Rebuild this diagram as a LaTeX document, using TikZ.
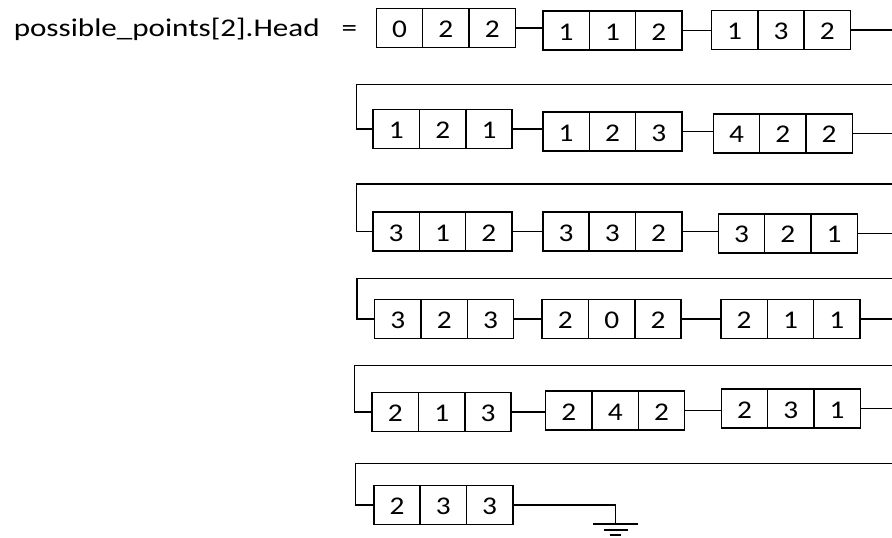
\documentclass[tikz,border=0pt]{standalone}
\usepackage{fontspec}
\setmainfont{Carlito}[FakeStretch=1.15,Numbers=Lining]
\usetikzlibrary{calc}
\newcommand\cells[3]{\makebox[46.33pt]{#1}\makebox[46.33pt]{#2}\makebox[46.33pt]{#3}}
\tikzset{
  txt/.style={font=\fontsize{25.5}{30}\selectfont},
  rec/.style={draw, txt, minimum width=139pt, minimum height=39pt, inner sep=0pt,
    text height=19pt, text depth=0pt,
    path picture={
      \draw ($(path picture bounding box.south west)!1/3!(path picture bounding box.south east)$) --
            ($(path picture bounding box.north west)!1/3!(path picture bounding box.north east)$);
      \draw ($(path picture bounding box.south west)!2/3!(path picture bounding box.south east)$) --
            ($(path picture bounding box.north west)!2/3!(path picture bounding box.north east)$);
    }},
}
\begin{document}
\begin{tikzpicture}[x=1pt,y=-1pt,line width=1.5pt]
\useasboundingbox (0,0) rectangle (892,538);
\clip (0,0) rectangle (892,538);
\node[txt, anchor=base west, inner sep=0pt] (lbl) at (13,36.5) {\addfontfeature{FakeStretch=1.22}possible\_points[2].Head\hspace{22pt}=};
% row 1
\node[rec] (a1) at (445.9,27.8) {\cells{0}{2}{2}};
\node[rec] (a2) at (612.5,30.5) {\cells{1}{1}{2}};
\node[rec] (a3) at (781,30) {\cells{1}{3}{2}};
% row 2
\node[rec] (b1) at (442.7,129.2) {\cells{1}{2}{1}};
\node[rec] (b2) at (612.5,131.6) {\cells{1}{2}{3}};
\node[rec] (b3) at (782.8,133.4) {\cells{4}{2}{2}};
% row 3
\node[rec] (c1) at (442.5,231.7) {\cells{3}{1}{2}};
\node[rec] (c2) at (612.3,231.5) {\cells{3}{3}{2}};
\node[rec] (c3) at (787.8,233.4) {\cells{3}{2}{1}};
% row 4
\node[rec] (d1) at (444.2,319.2) {\cells{3}{2}{3}};
\node[rec] (d2) at (611.7,319) {\cells{2}{0}{2}};
\node[rec] (d3) at (790.5,319.2) {\cells{2}{1}{1}};
% row 5
\node[rec] (e1) at (441.7,411.9) {\cells{2}{1}{3}};
\node[rec] (e2) at (615.2,410.5) {\cells{2}{4}{2}};
\node[rec] (e3) at (790.8,408.5) {\cells{2}{3}{1}};
% row 6
\node[rec] (f1) at (443.3,505) {\cells{2}{3}{3}};
% turn points beyond the right edge
\coordinate (t1) at (905,84.3);
\coordinate (t2) at (905,184);
\coordinate (t3) at (905,278.7);
\coordinate (t4) at (905,365.7);
\coordinate (t5) at (905,463.3);
\coordinate (g) at (615.5,524);
% links within rows
\foreach \r in {a,b,c,d,e}{
  \draw (\r1.east) -- (\r1.east -| \r2.west);
  \draw (\r2.east) -- (\r2.east -| \r3.west);
}
% wrap-around links
\draw (a3.east) -| (t1) -| ([xshift=-16pt]b1.west) -- (b1.west);
\draw (b3.east) -| (t2) -| ([xshift=-16pt]c1.west) -- (c1.west);
\draw (c3.east) -| (t3) -| ([xshift=-17pt]d1.west) -- (d1.west);
\draw (d3.east) -| (t4) -| ([xshift=-17pt]e1.west) -- (e1.west);
\draw (e3.east) -| (t5) -| ([xshift=-17.5pt]f1.west) -- (f1.west);
% end of list: ground
\draw (f1.east) -| (g);
\draw ([xshift=-22.5pt]g) -- ([xshift=22.5pt]g);
\draw ([shift={(-12,6)}]g) -- ([shift={(12,6)}]g);
\draw ([shift={(-6,11)}]g) -- ([shift={(5,11)}]g);
\end{tikzpicture}
\end{document}
